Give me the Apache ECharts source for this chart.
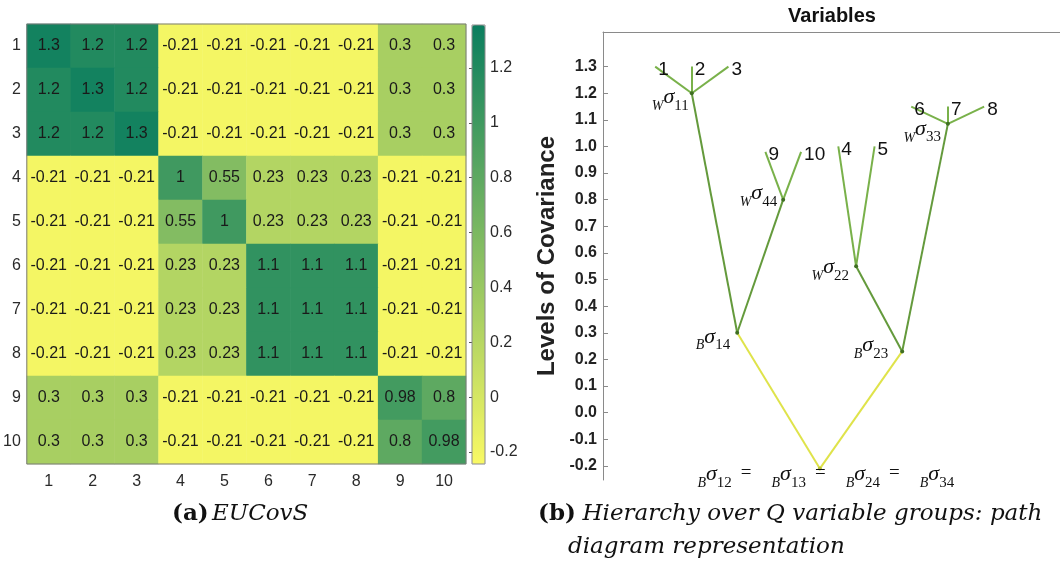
<!DOCTYPE html>
<html>
<head>
<meta charset="utf-8">
<script src="https://cdn.jsdelivr.net/npm/echarts@6/dist/echarts.min.js"></script>
<style>
html,body{margin:0;padding:0;background:#fff;}
#chart{width:1060px;height:572px;}
</style>
</head>
<body>
<div id="chart"></div>
<script>
// ---------- DATA ----------
const heatRowLabels = ['1','2','3','4','5','6','7','8','9','10'];
const heatColLabels = ['1','2','3','4','5','6','7','8','9','10'];
const covRow1  = [1.3, 1.2, 1.2, -0.21, -0.21, -0.21, -0.21, -0.21, 0.3, 0.3];
const covRow2  = [1.2, 1.3, 1.2, -0.21, -0.21, -0.21, -0.21, -0.21, 0.3, 0.3];
const covRow3  = [1.2, 1.2, 1.3, -0.21, -0.21, -0.21, -0.21, -0.21, 0.3, 0.3];
const covRow4  = [-0.21, -0.21, -0.21, 1, 0.55, 0.23, 0.23, 0.23, -0.21, -0.21];
const covRow5  = [-0.21, -0.21, -0.21, 0.55, 1, 0.23, 0.23, 0.23, -0.21, -0.21];
const covRow6  = [-0.21, -0.21, -0.21, 0.23, 0.23, 1.1, 1.1, 1.1, -0.21, -0.21];
const covRow7  = [-0.21, -0.21, -0.21, 0.23, 0.23, 1.1, 1.1, 1.1, -0.21, -0.21];
const covRow8  = [-0.21, -0.21, -0.21, 0.23, 0.23, 1.1, 1.1, 1.1, -0.21, -0.21];
const covRow9  = [0.3, 0.3, 0.3, -0.21, -0.21, -0.21, -0.21, -0.21, 0.98, 0.8];
const covRow10 = [0.3, 0.3, 0.3, -0.21, -0.21, -0.21, -0.21, -0.21, 0.8, 0.98];
const covRows = [covRow1, covRow2, covRow3, covRow4, covRow5, covRow6, covRow7, covRow8, covRow9, covRow10];

const colorbarMin = -0.244;
const colorbarMax = 1.357;
const colorbarTicks = [-0.2, 0, 0.2, 0.4, 0.6, 0.8, 1, 1.2];

// hierarchy (path diagram)
const treeNodeIds   = ['1','2','3','W11','9','10','W44','4','5','W22','6','7','8','W33','B14','B23','ROOT'];
const treeNodeX     = [5.37, 9.13, 12.9, 9.13, 16.7, 20.37, 18.53, 24.2, 27.93, 26.03, 31.7, 35.47, 39.2, 35.47, 13.8, 30.77, 22.3];
const treeNodeLevel = [1.3, 1.3, 1.3, 1.2, 0.98, 0.98, 0.8, 1.0, 1.0, 0.55, 1.15, 1.15, 1.15, 1.085, 0.3, 0.23, -0.21];
const withinEdges = [['W11','1'],['W11','2'],['W11','3'],['W44','9'],['W44','10'],['W22','4'],['W22','5'],['W33','6'],['W33','7'],['W33','8']];
const groupEdges  = [['W11','B14'],['W44','B14'],['W22','B23'],['W33','B23']];
const betweenEdges = [['B14','ROOT'],['B23','ROOT']];
const levelTicks = [-0.2,-0.1,0.0,0.1,0.2,0.3,0.4,0.5,0.6,0.7,0.8,0.9,1.0,1.1,1.2,1.3];
const levelMin = -0.253, levelMax = 1.43;

// ---------- STYLES ----------
const serif = "'Liberation Serif', 'DejaVu Serif', serif";
const sans = "'Liberation Sans', Arial, sans-serif";
const capFont = "'DejaVu Serif', serif";
const sigmaRich = {
  pre: {fontFamily: serif, fontStyle: 'italic', fontSize: 14, color: '#111', verticalAlign: 'bottom', lineHeight: 24},
  sig: {fontFamily: serif, fontStyle: 'italic', fontSize: 22, color: '#111', verticalAlign: 'bottom', lineHeight: 24, padding: [0,0,5,0]},
  sub: {fontFamily: serif, fontSize: 15, color: '#111', verticalAlign: 'bottom', lineHeight: 24},
  eq:  {fontFamily: serif, fontSize: 19, color: '#111', verticalAlign: 'bottom', lineHeight: 24, padding: [0, 20, 8, 9]}
};
const nodeLabelStyle = {
  W11: {position: 'left', distance: 1, offset: [0, 8]},
  W44: {position: 'left', distance: 4, offset: [0, -2]},
  W22: {position: 'left', distance: 5, offset: [0, 5]},
  W33: {position: 'left', distance: 5, offset: [0, 9]},
  B14: {position: 'left', distance: 5, offset: [0, 8]},
  B23: {position: 'left', distance: 12, offset: [0, -2]},
  ROOT: {position: 'bottom', distance: -4, offset: [6, 0]}
};

function sigmaText(id) {
  if (id === 'ROOT') {
    return '{pre|B}{sig|σ}{sub|12}{eq|=}{pre|B}{sig|σ}{sub|13}{eq|=}{pre|B}{sig|σ}{sub|24}{eq|=}{pre|B}{sig|σ}{sub|34}';
  }
  return '{pre|' + id[0] + '}{sig|σ}{sub|' + id.slice(1) + '}';
}

const heatData = [];
covRows.forEach((row, i) => row.forEach((v, j) => heatData.push([j, i, v])));

const graphNodes = treeNodeIds.map((id, k) => {
  const isLeaf = /^\d+$/.test(id);
  const node = {name: id, value: [treeNodeX[k], treeNodeLevel[k]]};
  if (isLeaf) {
    node.symbolSize = 0;
    node.label = {show: true, position: 'right', distance: 3, offset: [0, 3], formatter: id,
      fontFamily: sans, fontSize: 19, color: '#111'};
  } else {
    const st = nodeLabelStyle[id];
    node.symbolSize = 4;
    node.itemStyle = {color: id === 'ROOT' ? '#b8c23a' : '#3f6e22'};
    node.label = Object.assign({show: true, formatter: sigmaText(id), rich: sigmaRich}, st);
  }
  return node;
});
const graphLinks = []
  .concat(withinEdges.map(e => ({source: e[0], target: e[1], lineStyle: {color: '#79b14a', width: 2, opacity: 1}})))
  .concat(groupEdges.map(e => ({source: e[0], target: e[1], lineStyle: {color: '#649a3c', width: 2, opacity: 1}})))
  .concat(betweenEdges.map(e => ({source: e[0], target: e[1], lineStyle: {color: '#dfe34a', width: 2, opacity: 1}})));

const chart = echarts.init(document.getElementById('chart'), null, {renderer: 'canvas'});
chart.setOption({
  backgroundColor: '#fff',
  animation: false,
  title: {
    text: 'Variables', left: 827, top: 1, textAlign: 'center',
    textStyle: {fontFamily: sans, fontWeight: 'bold', fontSize: 20, color: '#111'}
  },
  grid: [
    {left: 26, top: 24, width: 440, height: 440, show: true, z: 10, backgroundColor: 'transparent', borderColor: '#7a7a7a', borderWidth: 1},
    {left: 472, top: 25, width: 13, height: 439, show: true, z: 10, backgroundColor: 'transparent', borderColor: '#8a8a8a', borderWidth: 1},
    {left: 603, top: 32, width: 470, height: 448}
  ],
  xAxis: [
    {type: 'category', gridIndex: 0, data: heatColLabels, position: 'bottom',
     axisLine: {show: false}, axisTick: {show: false},
     axisLabel: {fontFamily: sans, fontSize: 16, color: '#2a2a2a', margin: 10}},
    {type: 'value', gridIndex: 1, show: false},
    {type: 'value', gridIndex: 2, min: 0, max: 47, position: 'top',
     axisLine: {show: true, onZero: false, lineStyle: {color: '#8a8a8a', width: 1}},
     axisTick: {show: false}, axisLabel: {show: false}, splitLine: {show: false}}
  ],
  yAxis: [
    {type: 'category', gridIndex: 0, data: heatRowLabels, inverse: true,
     axisLine: {show: false}, axisTick: {show: false},
     axisLabel: {fontFamily: sans, fontSize: 16, color: '#2a2a2a', margin: 6}},
    {type: 'value', gridIndex: 1, min: colorbarMin, max: colorbarMax, position: 'right',
     axisLine: {show: false}, splitLine: {show: false},
     axisTick: {show: true, inside: true, length: 3, customValues: colorbarTicks, lineStyle: {color: '#555'}},
     axisLabel: {customValues: colorbarTicks, fontFamily: sans, fontSize: 16, color: '#2a2a2a', margin: 5,
                 formatter: v => String(Math.round(v * 10) / 10)}},
    {type: 'value', gridIndex: 2, min: levelMin, max: levelMax, position: 'left',
     name: 'Levels of Covariance', nameLocation: 'middle', nameGap: 44,
     nameTextStyle: {fontFamily: sans, fontWeight: 'bold', fontSize: 24, color: '#222'},
     axisLine: {show: true, onZero: false, lineStyle: {color: '#8a8a8a', width: 1}},
     splitLine: {show: false},
     axisTick: {show: true, inside: true, length: 5, customValues: levelTicks, lineStyle: {color: '#8a8a8a'}},
     axisLabel: {customValues: levelTicks, fontFamily: sans, fontWeight: 'bold', fontSize: 16, color: '#222', margin: 6,
                 formatter: v => v.toFixed(1)}}
  ],
  visualMap: {
    type: 'continuous', seriesIndex: 0, min: colorbarMin, max: colorbarMax,
    calculable: false, show: true, orient: 'vertical', left: 472, top: 25,
    itemWidth: 13, itemHeight: 439, padding: 0, text: ['', ''], showLabel: false,
    inRange: {color: ['#f9f964', '#0b7e5f']}
  },
  series: [
    {type: 'heatmap', xAxisIndex: 0, yAxisIndex: 0, data: heatData,
     label: {show: true, fontFamily: sans, fontSize: 16, color: '#1a1a1a', formatter: p => String(p.value[2])},
     itemStyle: {borderWidth: 0}, emphasis: {disabled: true}},
    {type: 'graph', coordinateSystem: 'cartesian2d', xAxisIndex: 2, yAxisIndex: 2,
     layout: 'none', symbol: 'circle', data: graphNodes, links: graphLinks,
     lineStyle: {opacity: 1},
     edgeSymbol: ['none', 'none'], emphasis: {disabled: true}, z: 3}
  ],
  graphic: [
    {type: 'text', left: 172, top: 503, style: {
      text: '{b|(a)} {i|EUCovS}',
      rich: {b: {fontFamily: capFont, fontWeight: 'bold', fontSize: 23, fill: '#111'},
             i: {fontFamily: capFont, fontStyle: 'italic', fontSize: 23, fill: '#111'}}}},
    {type: 'text', left: 538, top: 503, style: {
      text: '{b|(b)}  {i|Hierarchy over Q variable groups: path}',
      rich: {b: {fontFamily: capFont, fontWeight: 'bold', fontSize: 23, fill: '#111'},
             i: {fontFamily: capFont, fontStyle: 'italic', fontSize: 23, fill: '#111'}}}},
    {type: 'text', left: 568, top: 536, style: {
      text: 'diagram representation', fontFamily: capFont, fontStyle: 'italic', fontSize: 23, fill: '#111'}}
  ]
});
</script>
</body>
</html>
